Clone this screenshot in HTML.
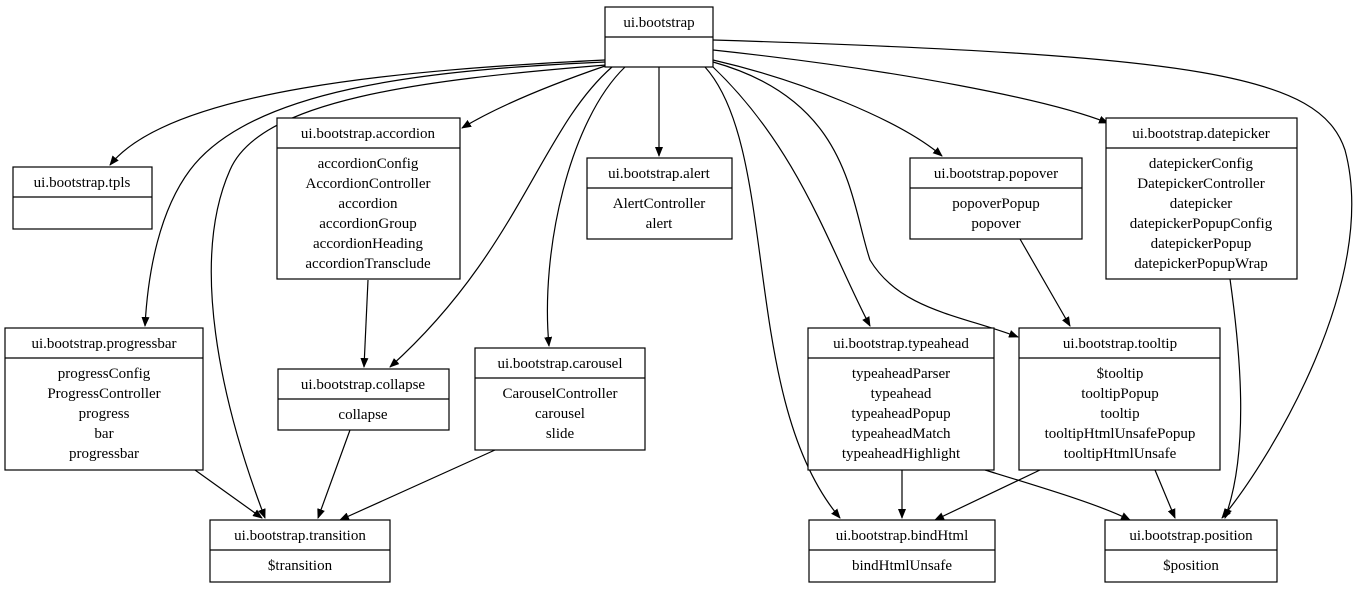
<!DOCTYPE html>
<html><head><meta charset="utf-8"><style>body{margin:0;background:#fff}svg text{font-family:"Liberation Serif",serif;font-size:15px;text-anchor:middle}</style></head><body>
<svg width="1367" height="589" viewBox="0 0 1367 589" xmlns="http://www.w3.org/2000/svg">
<defs><marker id="a" markerWidth="10" markerHeight="8" refX="9" refY="4" orient="auto" markerUnits="userSpaceOnUse"><path d="M0,0 L10,4 L0,8 z" fill="#000"/></marker></defs>
<g fill="none" stroke="#000" stroke-width="1.2" marker-end="url(#a)">
<path d="M605,60 C400,70 170,90 110,165"/>
<path d="M605,62 C420,70 250,90 190,170 C160,210 148,270 145,326"/>
<path d="M606,65 C420,80 260,100 230,170 C190,260 220,400 265,518"/>
<path d="M605,66 C550,85 500,105 462,128"/>
<path d="M612,67 C540,130 520,250 390,367"/>
<path d="M625,67 C570,120 540,250 549,346"/>
<path d="M659,67 L659,156"/>
<path d="M705,67 C780,150 740,400 840,518"/>
<path d="M713,67 C800,150 830,250 870,326"/>
<path d="M713,62 C850,100 850,200 870,260 C900,310 960,315 1018,337"/>
<path d="M713,60 C800,80 900,120 942,156"/>
<path d="M713,50 C900,70 1050,100 1108,123"/>
<path d="M713,40 C1200,55 1320,75 1345,150 C1380,280 1270,460 1222,518"/>
<path d="M368,280 L364,367"/>
<path d="M195,470 L262,518"/>
<path d="M350,430 L318,518"/>
<path d="M495,450 L340,520"/>
<path d="M902,470 L902,518"/>
<path d="M1040,470 L935,520"/>
<path d="M985,470 C1050,490 1100,505 1130,520"/>
<path d="M1155,470 L1175,518"/>
<path d="M1020,239 L1070,326"/>
<path d="M1230,279 C1240,350 1250,450 1225,518"/>
</g>
<g fill="#fff" stroke="#000" stroke-width="1.2">
<rect x="605" y="7" width="108" height="60"/><line x1="605" y1="37" x2="713" y2="37"/>
<rect x="13" y="167" width="139" height="62"/><line x1="13" y1="197" x2="152" y2="197"/>
<rect x="277" y="118" width="183" height="161"/><line x1="277" y1="148" x2="460" y2="148"/>
<rect x="587" y="158" width="145" height="81"/><line x1="587" y1="188" x2="732" y2="188"/>
<rect x="910" y="158" width="172" height="81"/><line x1="910" y1="188" x2="1082" y2="188"/>
<rect x="1106" y="118" width="191" height="161"/><line x1="1106" y1="148" x2="1297" y2="148"/>
<rect x="5" y="328" width="198" height="142"/><line x1="5" y1="358" x2="203" y2="358"/>
<rect x="278" y="369" width="171" height="61"/><line x1="278" y1="399" x2="449" y2="399"/>
<rect x="475" y="348" width="170" height="102"/><line x1="475" y1="378" x2="645" y2="378"/>
<rect x="808" y="328" width="186" height="142"/><line x1="808" y1="358" x2="994" y2="358"/>
<rect x="1019" y="328" width="201" height="142"/><line x1="1019" y1="358" x2="1220" y2="358"/>
<rect x="210" y="520" width="180" height="62"/><line x1="210" y1="550" x2="390" y2="550"/>
<rect x="809" y="520" width="186" height="62"/><line x1="809" y1="550" x2="995" y2="550"/>
<rect x="1105" y="520" width="172" height="62"/><line x1="1105" y1="550" x2="1277" y2="550"/>
</g>
<g fill="#000">
<text x="659" y="27">ui.bootstrap</text>
<text x="82" y="187">ui.bootstrap.tpls</text>
<text x="368" y="138">ui.bootstrap.accordion</text>
<text x="368" y="168">accordionConfig</text><text x="368" y="188">AccordionController</text><text x="368" y="208">accordion</text><text x="368" y="228">accordionGroup</text><text x="368" y="248">accordionHeading</text><text x="368" y="268">accordionTransclude</text>
<text x="659" y="178">ui.bootstrap.alert</text><text x="659" y="208">AlertController</text><text x="659" y="228">alert</text>
<text x="996" y="178">ui.bootstrap.popover</text><text x="996" y="208">popoverPopup</text><text x="996" y="228">popover</text>
<text x="1201" y="138">ui.bootstrap.datepicker</text>
<text x="1201" y="168">datepickerConfig</text><text x="1201" y="188">DatepickerController</text><text x="1201" y="208">datepicker</text><text x="1201" y="228">datepickerPopupConfig</text><text x="1201" y="248">datepickerPopup</text><text x="1201" y="268">datepickerPopupWrap</text>
<text x="104" y="348">ui.bootstrap.progressbar</text>
<text x="104" y="378">progressConfig</text><text x="104" y="398">ProgressController</text><text x="104" y="418">progress</text><text x="104" y="438">bar</text><text x="104" y="458">progressbar</text>
<text x="363" y="389">ui.bootstrap.collapse</text><text x="363" y="419">collapse</text>
<text x="560" y="368">ui.bootstrap.carousel</text><text x="560" y="398">CarouselController</text><text x="560" y="418">carousel</text><text x="560" y="438">slide</text>
<text x="901" y="348">ui.bootstrap.typeahead</text>
<text x="901" y="378">typeaheadParser</text><text x="901" y="398">typeahead</text><text x="901" y="418">typeaheadPopup</text><text x="901" y="438">typeaheadMatch</text><text x="901" y="458">typeaheadHighlight</text>
<text x="1120" y="348">ui.bootstrap.tooltip</text>
<text x="1120" y="378">$tooltip</text><text x="1120" y="398">tooltipPopup</text><text x="1120" y="418">tooltip</text><text x="1120" y="438">tooltipHtmlUnsafePopup</text><text x="1120" y="458">tooltipHtmlUnsafe</text>
<text x="300" y="540">ui.bootstrap.transition</text><text x="300" y="570">$transition</text>
<text x="902" y="540">ui.bootstrap.bindHtml</text><text x="902" y="570">bindHtmlUnsafe</text>
<text x="1191" y="540">ui.bootstrap.position</text><text x="1191" y="570">$position</text>
</g>
</svg>
</body></html>
